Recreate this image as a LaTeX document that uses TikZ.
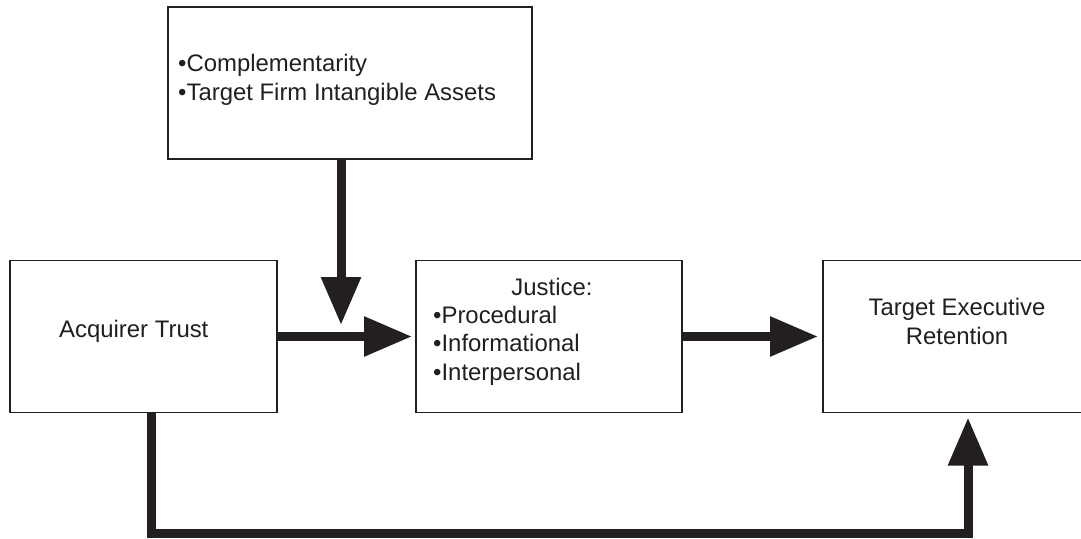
\documentclass[tikz,border=0pt]{standalone}
\usepackage{fontspec}
\setmainfont{Liberation Sans}
\usetikzlibrary{positioning,arrows.meta}
\definecolor{ink}{HTML}{231F20}

\begin{document}
\begin{tikzpicture}[
x=1pt, y=-1pt,
box/.style={draw=ink, line width=1.8pt, fill=white, minimum height=152pt, inner sep=0pt, outer sep=0pt},
txt/.style={inner sep=0pt, text=ink, font=\fontsize{23.9}{28.5}\selectfont, align=left},
bigarrow/.style={draw=ink, line width=9pt, -{Triangle[width=38pt,length=48pt]}}
]

\useasboundingbox (0,0) rectangle (1081,538);
\fill[white] (0,0) rectangle (1081,538);
\clip (0,0) rectangle (1081,538);

%-------------------------
% Boxes
%-------------------------

\node[box, minimum width=364pt] (factors) at (350,83) {};

\node[box, minimum width=267pt] (trust) at (143.5,336.5) {};
\node[box, minimum width=266pt, right=139pt of trust] (justice) {};
\node[box, minimum width=268pt, right=141pt of justice] (retention) {};

%-------------------------
% Texts (base = last line)
%-------------------------

\node[txt, anchor=base west] (factors-list) at (178,100)
{•Complementarity\\•Target Firm Intangible Assets};

\node[txt, anchor=base west] (trust-label) at (59,337) {Acquirer Trust};

\node[txt, anchor=base] (justice-head) at (552,295) {Justice:};
\node[txt, anchor=base west] (justice-list) at (433,380)
{•Procedural\\•Informational\\•Interpersonal};

\node[txt, anchor=base, align=center] (retention-label) at (957,344)
{Target Executive\\Retention};

%-------------------------
% Arrows
%-------------------------

\coordinate (moderator) at (341,325);
\coordinate (floor) at (0,533);

\draw[bigarrow] ([xshift=-9pt]factors.south) -- (moderator);

\draw[bigarrow, shorten >=4pt] (trust.east) -- (justice.west);
\draw[bigarrow, shorten >=5pt] (justice.east) -- (retention.west);

\draw[bigarrow, shorten >=5pt] ([xshift=7.5pt]trust.south)
  |- ([xshift=11pt]retention.south |- floor) -- ([xshift=11pt]retention.south);

\end{tikzpicture}
\end{document}
